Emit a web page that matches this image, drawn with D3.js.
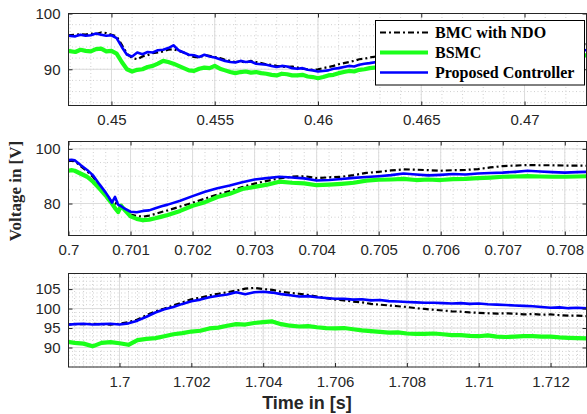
<!DOCTYPE html>
<html><head><meta charset="utf-8">
<script src="https://cdn.jsdelivr.net/npm/d3@7"></script>
<style>body{margin:0;background:#fff}svg{display:block}</style>
</head><body>
<svg id="chart" width="587" height="414"></svg>
<script>
// ---------- DATA ----------
const seriesNames = ["BMC with NDO", "BSMC", "Proposed Controller"];

// Panel 1 (t ≈ 0.448 – 0.473 s)
const time1 = [0.4479,0.44825,0.4485,0.44875,0.4490,0.44925,0.4495,0.44975,0.4500,0.45025,0.4505,0.45075,0.4510,0.45125,0.4515,0.45175,0.4520,0.45225,0.4525,0.45275,0.4530,0.45325,0.4535,0.45375,0.4540,0.45425,0.4545,0.45475,0.4550,0.45525,0.4555,0.45575,0.4560,0.45625,0.4565,0.45675,0.4570,0.45725,0.4575,0.45775,0.4580,0.45825,0.4585,0.45875,0.4590,0.45925,0.4595,0.45975,0.4600,0.46025,0.4605,0.46075,0.4610,0.46125,0.4615,0.46175,0.4620,0.46225,0.4625,
  0.4630,0.4635,0.4640,0.4645,0.4650,0.4655,0.4660,0.4665,0.4670,0.4675,0.4680,0.4685,0.4690,0.4695,0.4700,0.4705,0.4710,0.4715,0.4720,0.4725,0.4731];
const bmc1  = [96.1,96.2,96.3,96.2,96.4,96.3,96.6,96.5,96.2,95.9,94.4,92.8,92.0,91.8,92.3,92.5,92.9,93.0,93.2,93.5,93.6,93.3,93.0,92.5,92.2,92.1,92.5,92.4,92.2,92.0,91.7,91.5,91.3,91.4,91.2,91.5,91.3,91.1,90.9,90.8,90.6,90.5,90.4,90.5,90.3,90.1,90.0,89.9,90.0,90.2,90.4,90.6,90.9,91.1,91.3,91.5,91.8,91.9,92.1,
  92.4,92.7,93.0,93.2,93.4,93.6,93.8,93.9,94.0,94.1,94.2,94.2,94.3,94.3,94.4,94.4,94.5,94.4,94.5,94.5,94.5];
const bsmc1 = [93.3,93.1,93.5,93.3,93.2,93.6,93.7,93.2,93.3,92.8,91.3,90.0,89.6,89.9,90.0,90.4,90.6,91.0,91.5,91.3,91.0,90.6,90.2,89.8,89.7,90.1,90.3,90.2,90.6,90.1,89.8,89.5,89.3,89.5,89.6,89.4,89.5,89.3,89.2,89.0,88.9,89.2,89.1,88.9,88.9,89.0,88.7,88.6,88.4,88.6,88.9,89.0,89.3,89.5,89.7,89.6,89.9,90.0,90.2,
  90.4,90.7,90.9,91.1,91.3,91.5,91.6,91.8,91.9,92.0,92.1,92.2,92.2,92.3,92.4,92.4,92.5,92.4,92.5,92.5,92.5];
const prop1 = [96.0,95.9,96.2,96.0,96.1,96.4,96.2,96.0,96.1,95.6,94.0,92.6,92.3,93.0,92.7,93.1,93.0,93.4,93.5,93.8,94.3,93.4,93.0,92.6,92.5,92.2,92.6,92.3,92.1,91.8,91.5,91.3,91.2,91.5,91.3,91.4,91.0,90.9,90.8,90.6,90.4,90.6,90.5,90.2,90.1,90.2,89.9,89.8,89.6,89.7,89.8,90.1,90.2,90.4,90.6,90.5,90.8,91.0,91.1,
  91.4,91.7,92.0,92.2,92.5,92.6,92.8,92.9,93.0,93.1,93.2,93.2,93.3,93.3,93.4,93.3,93.4,93.5,93.4,93.5,93.4];

// Panel 2 (t ≈ 0.700 – 0.7083 s)
const time2 = [0.7000,0.70005,0.7001,0.7002,0.7003,0.7004,0.7005,0.7006,0.70065,0.7007,0.70075,0.7008,0.70085,0.7009,0.7010,0.7011,0.7012,0.7013,0.7014,0.7015,0.7016,0.7018,0.7020,0.7022,0.7024,0.7026,0.7028,0.7030,0.7032,0.7034,0.7036,0.7038,0.7040,0.7042,0.7044,0.7046,0.7048,0.7050,0.7052,0.7054,0.7056,0.7058,0.7060,0.7062,0.7064,0.7066,0.7068,0.7070,0.7072,0.7074,0.7076,0.7078,0.7080,0.7082,0.7084];
const bmc2  = [95.6,95.7,95.5,93.6,91.8,89.6,86.5,83.6,82.0,80.6,80.2,79.3,78.6,77.6,76.0,75.4,75.2,75.6,76.2,76.9,77.5,78.9,80.3,81.8,83.3,84.6,86.0,87.3,88.3,89.2,89.8,90.0,89.3,89.6,89.8,90.4,91.2,91.6,92.1,92.5,92.4,92.2,92.0,92.2,92.3,92.6,93.2,93.7,93.9,94.1,94.0,94.0,93.9,93.9,93.8];
const bsmc2 = [92.0,92.2,92.0,90.9,89.8,87.9,85.5,82.9,81.4,80.0,78.3,76.9,79.2,77.8,75.3,74.4,73.9,74.1,74.6,75.2,75.8,77.3,79.2,80.5,82.4,83.6,85.3,86.1,86.9,88.0,87.6,87.4,86.7,86.9,87.2,87.6,88.4,88.7,88.8,89.0,88.6,88.8,88.6,88.9,89.0,89.3,89.5,89.8,89.9,90.0,89.9,89.8,89.8,89.9,90.0];
const prop2 = [95.9,96.0,95.8,94.0,92.3,90.2,87.0,84.0,82.3,80.3,82.4,79.6,79.0,78.2,77.0,76.8,77.3,77.5,78.3,79.0,79.6,81.0,82.7,84.3,85.6,86.6,87.8,88.8,89.3,89.8,89.5,89.2,88.4,88.6,89.0,89.4,89.7,90.0,90.4,91.0,90.6,90.3,90.5,90.8,90.6,91.0,91.2,91.3,91.6,92.0,91.7,91.5,91.3,91.5,91.6];

// Panel 3 (t ≈ 1.6986 – 1.713 s)
const time3 = [1.6985,1.69875,1.6990,1.69925,1.6995,1.69975,1.7000,1.70025,1.7005,1.70075,1.7010,1.70125,1.7015,1.70175,1.7020,1.70225,1.7025,1.70275,1.7030,1.70325,1.7035,1.70375,1.7040,1.70425,1.7045,1.70475,1.7050,1.70525,1.7055,1.70575,1.7060,1.70625,1.7065,1.70675,1.7070,1.70725,1.7075,1.70775,1.7080,1.70825,1.7085,1.70875,1.7090,1.70925,1.7095,1.70975,1.7100,1.71025,1.7105,1.71075,1.7110,1.71125,1.7115,1.71175,1.7120,1.71225,1.7125,1.71275,1.7131];
const bmc3  = [95.9,96.0,96.0,96.1,96.0,95.9,96.1,96.5,97.2,98.3,99.3,100.0,100.8,101.6,102.4,102.8,103.4,103.8,104.2,104.6,105.1,105.3,105.0,104.8,104.3,104.0,103.8,103.5,103.1,102.7,102.3,102.1,101.8,101.6,101.2,101.0,100.8,100.6,100.4,100.1,99.9,99.7,99.5,99.3,99.2,99.0,98.9,98.8,98.7,98.8,98.7,98.5,98.6,98.4,98.5,98.3,98.2,98.2,98.0];
const bsmc3 = [91.5,91.2,91.0,90.3,91.2,91.4,91.1,90.7,91.9,92.2,92.4,92.9,93.4,93.7,94.1,94.3,94.9,95.1,95.6,96.0,95.9,96.3,96.5,96.7,96.0,95.6,95.4,95.5,95.2,95.0,94.9,95.0,94.7,94.4,94.2,94.0,93.8,93.9,93.6,93.5,93.5,93.6,93.4,93.2,93.2,93.0,92.9,93.1,92.8,92.7,92.8,92.9,92.9,92.8,92.8,92.6,92.5,92.4,92.3];
const prop3 = [95.8,96.0,96.1,95.9,96.0,96.1,95.9,96.2,96.9,97.9,99.0,99.8,100.4,101.2,101.9,102.3,102.9,103.3,103.6,104.2,103.7,104.2,104.3,104.1,103.7,103.4,103.1,103.2,102.9,102.7,102.5,102.5,102.3,102.4,102.1,102.2,101.9,101.8,101.7,101.6,101.5,101.5,101.4,101.3,101.4,101.2,101.3,101.1,101.0,100.9,100.8,100.7,100.6,100.4,100.2,100.3,100.1,100.2,100.0];

// Tick values & labels
const xTicks1 = [0.45,0.455,0.46,0.465,0.47];
const xLabels1 = ["0.45","0.455","0.46","0.465","0.47"];
const yTicks1 = [90,100];
const xTicks2 = [0.7,0.701,0.702,0.703,0.704,0.705,0.706,0.707,0.708];
const xLabels2 = ["0.7","0.701","0.702","0.703","0.704","0.705","0.706","0.707","0.708"];
const yTicks2 = [80,100];
const xTicks3 = [1.7,1.702,1.704,1.706,1.708,1.71,1.712];
const xLabels3 = ["1.7","1.702","1.704","1.706","1.708","1.71","1.712"];
const yTicks3 = [90,95,100,105];

// ---------- DRAWING ----------
const svg = d3.select("#chart");
const L = 68.5, R = 586.5;
const colors = ["#000000", "#1aff1a", "#0000ff"];
const widths = [2.2, 4.2, 2.6];
const dashes = ["6,3,2,3", null, null];
const axisColor = "#262626";
const sans = "'Liberation Sans', Arial, Helvetica, sans-serif";
const serif = "'Liberation Serif', 'Times New Roman', serif";

const panels = [
  {t: time1, s: [bmc1, bsmc1, prop1], xd: [0.44792, 0.4730], yd: [83.5, 100], top: 13.5, bot: 105.5,
   xt: xTicks1, xl: xLabels1, yt: yTicks1, xm: 0.001, ym: 2},
  {t: time2, s: [bmc2, bsmc2, prop2], xd: [0.7, 0.70835], yd: [68.3, 102.7], top: 141.5, bot: 235.5,
   xt: xTicks2, xl: xLabels2, yt: yTicks2, xm: 0.0002, ym: 5},
  {t: time3, s: [bmc3, bsmc3, prop3], xd: [1.69858, 1.7130], yd: [85, 109], top: 273.5, bot: 367,
   xt: xTicks3, xl: xLabels3, yt: yTicks3, xm: 0.00025, ym: 1}
];

function steps(d, step) {
  const out = [];
  for (let k = Math.ceil(d[0] / step - 1e-9); k * step <= d[1] + 1e-12; k++) out.push(k * step);
  return out;
}

panels.forEach((p, i) => {
  const x = d3.scaleLinear().domain(p.xd).range([L, R]);
  const y = d3.scaleLinear().domain(p.yd).range([p.bot, p.top]);
  const g = svg.append("g");
  g.append("rect").attr("x", L).attr("y", p.top).attr("width", R - L).attr("height", p.bot - p.top).attr("fill", "#fff");

  // minor grid
  g.selectAll(null).data(steps(p.xd, p.xm)).enter().append("line")
    .attr("x1", d => x(d)).attr("x2", d => x(d)).attr("y1", p.top).attr("y2", p.bot)
    .attr("stroke", "#c4c4c4").attr("stroke-width", 0.8).attr("stroke-dasharray", "1,2.5");
  g.selectAll(null).data(steps(p.yd, p.ym)).enter().append("line")
    .attr("y1", d => y(d)).attr("y2", d => y(d)).attr("x1", L).attr("x2", R)
    .attr("stroke", "#c4c4c4").attr("stroke-width", 0.8).attr("stroke-dasharray", "1,2.5");
  // major grid
  g.selectAll(null).data(p.xt).enter().append("line")
    .attr("x1", d => x(d)).attr("x2", d => x(d)).attr("y1", p.top).attr("y2", p.bot)
    .attr("stroke", "#dcdcdc").attr("stroke-width", 1);
  g.selectAll(null).data(p.yt).enter().append("line")
    .attr("y1", d => y(d)).attr("y2", d => y(d)).attr("x1", L).attr("x2", R)
    .attr("stroke", "#dcdcdc").attr("stroke-width", 1);

  // data
  const cid = "clip" + i;
  svg.append("defs").append("clipPath").attr("id", cid).append("rect")
    .attr("x", L).attr("y", p.top).attr("width", R - L).attr("height", p.bot - p.top);
  const line = d3.line().x(d => x(d[0])).y(d => y(d[1]));
  p.s.forEach((vals, k) => {
    g.append("path").datum(p.t.map((tt, j) => [tt, vals[j]]))
      .attr("clip-path", `url(#${cid})`)
      .attr("d", line).attr("fill", "none")
      .attr("stroke", colors[k]).attr("stroke-width", widths[k])
      .attr("stroke-linejoin", "round")
      .attr("stroke-dasharray", dashes[k]);
  });

  // axes
  const xa = g.append("g").attr("transform", `translate(0,${p.bot})`)
    .call(d3.axisBottom(x).tickValues(p.xt).tickFormat((d, j) => p.xl[j]).tickSizeInner(-4).tickSizeOuter(0).tickPadding(9));
  const xa2 = g.append("g").attr("transform", `translate(0,${p.top})`)
    .call(d3.axisTop(x).tickValues(p.xt).tickFormat("").tickSizeInner(-4).tickSizeOuter(0));
  const ya = g.append("g").attr("transform", `translate(${L},0)`)
    .call(d3.axisLeft(y).tickValues(p.yt).tickFormat(d3.format("d")).tickSizeInner(-4).tickSizeOuter(0).tickPadding(8));
  const ya2 = g.append("g").attr("transform", `translate(${R},0)`)
    .call(d3.axisRight(y).tickValues(p.yt).tickFormat("").tickSizeInner(-4).tickSizeOuter(0));
  [xa, xa2, ya, ya2].forEach(a => {
    a.select(".domain").remove();
    a.selectAll("line").attr("stroke", axisColor);
    a.selectAll("text").attr("fill", axisColor).style("font-family", sans).style("font-size", "15px");
  });
  g.append("rect").attr("x", L).attr("y", p.top).attr("width", R - L).attr("height", p.bot - p.top)
    .attr("fill", "none").attr("stroke", axisColor).attr("stroke-width", 1);
});

// axis titles
svg.append("text").attr("transform", "translate(21,191) rotate(-90)")
  .attr("text-anchor", "middle").style("font-family", serif).style("font-weight", "bold")
  .style("font-size", "17px").attr("fill", axisColor).text("Voltage in [V]");
svg.append("text").attr("x", 307).attr("y", 409).attr("text-anchor", "middle")
  .style("font-family", sans).style("font-weight", "bold").style("font-size", "18px")
  .attr("fill", axisColor).text("Time in [s]");

// legend
const lg = svg.append("g");
lg.append("rect").attr("x", 375.5).attr("y", 20.5).attr("width", 209).attr("height", 64.5)
  .attr("fill", "#fff").attr("stroke", "#000").attr("stroke-width", 1);
const ly = [32.5, 52.5, 72.5];
seriesNames.forEach((name, k) => {
  lg.append("line").attr("x1", 380).attr("x2", 428).attr("y1", ly[k]).attr("y2", ly[k])
    .attr("stroke", colors[k]).attr("stroke-width", widths[k]).attr("stroke-dasharray", dashes[k]);
  lg.append("text").attr("x", 435).attr("y", ly[k] + 5.5)
    .style("font-family", serif).style("font-weight", "bold").style("font-size", "16px")
    .attr("fill", "#000").text(name);
});
</script>
</body></html>
